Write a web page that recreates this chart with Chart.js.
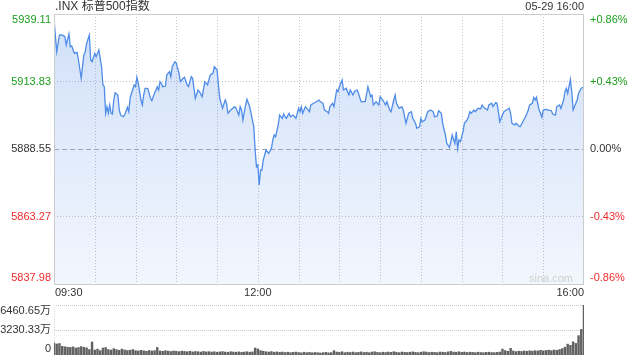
<!DOCTYPE html>
<html>
<head>
<meta charset="utf-8">
<script src="https://cdn.jsdelivr.net/npm/chart.js@4.4.1/dist/chart.umd.min.js"></script>
<style>
    html, body { margin: 0; padding: 0; background: #fff; }
    #wrap { position: relative; width: 640px; height: 360px; }
    #wrap canvas { position: absolute; left: 0; top: 0; }
</style>
</head>
<body>
<div id="wrap">
    <canvas id="price" width="640" height="360"></canvas>
    <canvas id="vol" width="640" height="360"></canvas>
</div>
<script>
// ── Data ─────────────────────────────────────────────────────────────────────

var TITLE = '.INX 标普500指数';
var STAMP = '05-29 16:00';
var PREV_CLOSE = 5888.55;

// Minutes since 09:30 and the index level read at that minute.
var minutes = [
    0, 1, 2, 4, 6, 8, 9, 11, 12, 13, 15, 17, 18, 20, 22, 23, 24, 26, 27, 28,
    30, 31, 33, 34, 35, 36, 37, 38, 39, 40, 41, 42, 43, 44, 45, 47, 48, 49, 51, 52,
    54, 55, 56, 57, 59, 60, 61, 62, 64, 65, 66, 67, 69, 71, 72, 73, 74, 76, 77, 78,
    79, 80, 82, 83, 85, 86, 87, 89, 90, 92, 93, 95, 96, 98, 99, 101, 102, 104, 106, 107,
    109, 111, 113, 115, 117, 118, 120, 121, 122, 124, 126, 127, 128, 130, 133, 134, 136, 137, 138, 139,
    141, 142, 144, 145, 147, 148, 149, 150, 151, 152, 153, 154, 155, 156, 158, 160, 161, 162, 163, 165,
    166, 168, 169, 170, 171, 173, 174, 176, 178, 180, 181, 182, 183, 185, 186, 188, 189, 191, 193, 195,
    196, 198, 199, 201, 202, 203, 205, 206, 208, 209, 210, 212, 213, 215, 217, 218, 220, 221, 223, 224,
    226, 229, 231, 233, 234, 235, 237, 239, 240, 242, 244, 245, 247, 248, 250, 251, 252, 254, 256, 257,
    259, 261, 263, 264, 266, 267, 269, 270, 271, 273, 275, 277, 279, 280, 282, 283, 285, 286, 288, 289,
    291, 292, 293, 295, 296, 297, 298, 299, 301, 302, 304, 305, 306, 307, 309, 310, 311, 312, 314, 315,
    317, 319, 320, 322, 323, 325, 326, 327, 328, 330, 331, 333, 335, 336, 337, 339, 340, 342, 343, 345,
    347, 349, 350, 352, 353, 354, 355, 357, 358, 359, 360, 362, 364, 366, 367, 369, 370, 372, 373, 375,
    376, 377, 378, 380, 381, 382, 384, 385, 386, 388, 390
];
var prices = [
    5937.20, 5931.00, 5925.00, 5931.24, 5931.30, 5930.61, 5927.50, 5931.62, 5926.86, 5927.12,
    5924.39, 5924.76, 5921.88, 5915.03, 5923.75, 5924.99, 5928.14, 5931.24, 5921.88, 5921.24,
    5924.39, 5923.12, 5925.63, 5922.52, 5919.37, 5912.52, 5911.88, 5901.92, 5904.39, 5901.92,
    5905.03, 5901.92, 5901.65, 5906.90, 5909.63, 5908.77, 5903.15, 5901.28, 5900.64, 5901.28,
    5904.16, 5902.52, 5907.53, 5909.41, 5912.52, 5911.88, 5915.40, 5913.15, 5906.90, 5905.03,
    5908.77, 5911.28, 5911.28, 5907.53, 5906.64, 5908.13, 5909.41, 5911.88, 5910.64, 5913.75,
    5913.15, 5911.88, 5912.14, 5916.26, 5917.50, 5915.63, 5919.37, 5921.24, 5920.64, 5916.90,
    5913.75, 5915.03, 5915.40, 5912.52, 5911.88, 5915.63, 5915.03, 5907.53, 5910.64, 5910.01,
    5908.13, 5913.75, 5912.52, 5916.26, 5916.90, 5919.37, 5918.13, 5912.52, 5907.53, 5903.79,
    5906.90, 5905.66, 5901.92, 5903.15, 5904.39, 5903.79, 5901.28, 5904.39, 5903.15, 5899.41,
    5905.03, 5907.16, 5904.39, 5901.92, 5896.90, 5888.17, 5881.91, 5882.55, 5875.06, 5880.68,
    5880.68, 5884.42, 5886.30, 5888.17, 5886.93, 5888.81, 5891.92, 5893.79, 5893.15, 5897.53,
    5901.28, 5900.04, 5901.65, 5900.64, 5900.04, 5901.92, 5900.64, 5901.28, 5900.04, 5903.79,
    5902.52, 5904.39, 5901.92, 5904.39, 5903.79, 5902.52, 5905.03, 5905.66, 5906.26, 5906.90,
    5906.26, 5905.66, 5903.15, 5902.52, 5901.92, 5904.39, 5905.66, 5904.39, 5910.64, 5910.01,
    5911.88, 5914.39, 5910.64, 5911.28, 5908.77, 5910.64, 5908.77, 5910.01, 5910.64, 5909.41,
    5906.26, 5906.26, 5911.88, 5908.13, 5908.77, 5905.03, 5906.26, 5905.03, 5908.13, 5906.90,
    5905.03, 5906.26, 5903.15, 5902.52, 5906.90, 5908.77, 5905.66, 5903.79, 5904.39, 5903.15,
    5898.17, 5901.92, 5902.52, 5900.04, 5898.17, 5896.30, 5896.90, 5900.04, 5898.77, 5899.41,
    5902.52, 5903.15, 5902.52, 5900.64, 5900.90, 5902.89, 5901.92, 5898.17, 5893.79, 5890.68,
    5889.18, 5891.28, 5893.79, 5890.68, 5895.02, 5888.81, 5891.92, 5891.28, 5895.02, 5898.17,
    5899.41, 5900.64, 5902.52, 5901.92, 5903.15, 5902.52, 5903.15, 5903.79, 5903.60, 5905.03,
    5903.79, 5903.15, 5905.03, 5905.66, 5904.39, 5905.89, 5905.66, 5902.52, 5898.77, 5901.28,
    5902.52, 5903.15, 5903.79, 5901.92, 5898.17, 5897.53, 5898.17, 5897.16, 5896.90, 5898.77,
    5900.64, 5903.15, 5905.03, 5905.66, 5907.91, 5906.90, 5907.91, 5903.15, 5901.92, 5900.42,
    5903.15, 5903.41, 5903.15, 5902.89, 5901.65, 5901.28, 5904.39, 5905.03, 5903.79, 5906.90,
    5910.01, 5911.28, 5909.41, 5914.65, 5910.01, 5903.15, 5905.66, 5906.90, 5909.41, 5911.28,
    5911.88
];

// Volume per two-minute bucket, in 万 shares.
var volumes = [
    1550, 1420, 1480, 1120, 1060, 1000,
    980, 1050, 900, 960, 1080, 1000, 920, 700,
    1680,
    640, 760, 560, 900, 960, 700, 640, 820, 690, 600, 760, 650, 580, 620, 700,
    560, 520, 600, 540, 480, 580, 520, 560,
    970,
    520, 480, 560, 500, 450, 520, 480, 430, 500, 460, 420, 480, 400, 450, 420, 380, 460, 400,
    430, 380, 420, 360, 400, 440, 380, 350, 420, 380, 360, 400, 340, 380, 420, 360, 400,
    900, 780,
    560, 480, 420, 380, 440, 360, 400, 340, 380, 320, 360, 300, 340, 380, 320, 280, 360, 300,
    340, 280, 320, 300, 260, 300, 340, 280, 300,
    560,
    380, 340, 420, 300, 360, 320, 380, 300, 340, 400, 320, 360, 300, 380, 420, 340, 300, 360,
    320, 380, 340, 420, 360, 300, 380, 340, 320, 360, 400, 340, 300, 360, 420, 380, 320, 360,
    340, 300, 380, 360, 320, 400, 460, 380, 360, 420, 340, 380, 320, 360, 340, 300, 360, 320,
    300, 340, 360, 320, 300, 340, 380,
    760, 560, 480, 860, 520,
    440, 500, 460, 520, 480, 540, 500, 560, 520, 600, 540, 580, 620, 560, 640, 600,
    700, 820, 1000, 1400, 1250, 1700, 1500, 2500, 3300, 6460.65
];
var volMinutes = volumes.map(function(_, i) { return i * 2; });

var priceTicks = [5939.11, 5913.83, 5888.55, 5863.27, 5837.98];
var pctTicks = ['+0.86%', '+0.43%', '0.00%', '-0.43%', '-0.86%'];
var volTicks = [6460.65, 3230.33, 0];
var volTickLabels = ['6460.65万', '3230.33万', '0'];
var timeTicks = [0, 150, 390];
var timeLabels = ['09:30', '12:00', '16:00'];
var gridMinutes = [30, 60, 90, 120, 150, 180, 210, 240, 270, 300, 330, 360];

// ── Style ────────────────────────────────────────────────────────────────────

var FAMILY = 'Arial, "Liberation Sans", "Noto Sans CJK SC", sans-serif';
var FONT = '11px ' + FAMILY;
var TITLE_FONT = '12px ' + FAMILY;
var GREEN = '#1a9e1a';
var RED = '#f02c2c';
var TEXT = '#333';
var LINE = '#4f8ce8';

function tickColor(v) {
    if (Math.abs(v - PREV_CLOSE) < 0.01) {
        return TEXT;
    }
    return v > PREV_CLOSE ? GREEN : RED;
}

function hLine(ctx, a, y, color, dash) {
    ctx.strokeStyle = color;
    ctx.setLineDash(dash);
    ctx.beginPath();
    ctx.moveTo(a.left, y);
    ctx.lineTo(a.right, y);
    ctx.stroke();
}

function vLine(ctx, x, top, bottom, color, dash) {
    ctx.strokeStyle = color;
    ctx.setLineDash(dash);
    ctx.beginPath();
    ctx.moveTo(x, top);
    ctx.lineTo(x, bottom);
    ctx.stroke();
}

function clampY(y, a) {
    return Math.min(Math.max(y, a.top + 6), a.bottom - 6);
}

// ── Price pane decorations ───────────────────────────────────────────────────

var priceDecor = {
    id: 'priceDecor',
    beforeDatasetsDraw: function(chart) {
        var ctx = chart.ctx, a = chart.chartArea, x = chart.scales.x, y = chart.scales.y;
        ctx.save();
        ctx.lineWidth = 1;
        gridMinutes.forEach(function(m) {
            vLine(ctx, Math.round(x.getPixelForValue(m)) + 0.5, a.top, a.bottom, '#c4c4c4', [1, 2]);
        });
        [priceTicks[1], priceTicks[3]].forEach(function(v) {
            hLine(ctx, a, Math.round(y.getPixelForValue(v)) + 0.5, '#c4c4c4', [1, 2]);
        });
        hLine(ctx, a, Math.round(y.getPixelForValue(PREV_CLOSE)) + 0.5, '#aaaaaa', [5, 3]);
        ctx.restore();
    },
    afterDraw: function(chart) {
        var ctx = chart.ctx, a = chart.chartArea, x = chart.scales.x, y = chart.scales.y;
        ctx.save();
        ctx.lineWidth = 1;
        ctx.setLineDash([]);
        ctx.strokeStyle = '#cccccc';
        ctx.strokeRect(a.left + 0.5, a.top + 0.5, a.right - a.left - 1, a.bottom - a.top);

        ctx.font = FONT;
        ctx.textBaseline = 'middle';

        priceTicks.forEach(function(v, i) {
            var py = clampY(y.getPixelForValue(v), a);
            ctx.fillStyle = tickColor(v);
            ctx.textAlign = 'right';
            ctx.fillText(v.toFixed(2), a.left - 3, py);
            ctx.textAlign = 'left';
            ctx.fillText(pctTicks[i], a.right + 6, py);
        });

        ctx.fillStyle = TEXT;
        timeTicks.forEach(function(m, i) {
            var px = x.getPixelForValue(m);
            ctx.textAlign = i === 0 ? 'left' : (i === timeTicks.length - 1 ? 'right' : 'center');
            ctx.fillText(timeLabels[i], i === 0 ? px + 1 : px, a.bottom + 9);
        });

        ctx.textAlign = 'right';
        ctx.fillText(STAMP, a.right, 7);
        ctx.font = TITLE_FONT;
        ctx.textAlign = 'left';
        ctx.fillText(TITLE, a.left + 1, 7);

        ctx.font = FONT;
        ctx.textAlign = 'right';
        ctx.fillStyle = '#cfcfcf';
        ctx.fillText('sina.com', a.right - 11, a.bottom - 5);
        ctx.restore();
    }
};

// ── Volume pane decorations ──────────────────────────────────────────────────

var volDecor = {
    id: 'volDecor',
    beforeDatasetsDraw: function(chart) {
        var ctx = chart.ctx, a = chart.chartArea, y = chart.scales.y;
        ctx.save();
        ctx.lineWidth = 1;
        [volTicks[0], volTicks[1]].forEach(function(v) {
            hLine(ctx, a, Math.round(y.getPixelForValue(v)) + 0.5, '#c8c8c8', [1, 1]);
        });
        vLine(ctx, a.left + 0.5, a.top, a.bottom, '#dddddd', [1, 1]);
        ctx.restore();
    },
    afterDraw: function(chart) {
        var ctx = chart.ctx, a = chart.chartArea, y = chart.scales.y;
        ctx.save();
        ctx.font = FONT;
        ctx.textBaseline = 'middle';
        ctx.textAlign = 'right';
        ctx.fillStyle = TEXT;
        volTicks.forEach(function(v, i) {
            ctx.fillText(volTickLabels[i], a.left - 3, clampY(y.getPixelForValue(v), a));
        });
        ctx.restore();
    }
};

// ── Charts ───────────────────────────────────────────────────────────────────

new Chart(document.getElementById('price'), {
    type: 'line',
    data: {
        datasets: [{
            data: minutes.map(function(m, i) { return {x: m, y: prices[i]}; }),
            borderColor: LINE,
            borderWidth: 1.3,
            pointRadius: 0,
            tension: 0,
            fill: 'start',
            backgroundColor: function(c) {
                var a = c.chart.chartArea;
                if (!a) {
                    return 'rgba(74,134,232,0.15)';
                }
                var g = c.chart.ctx.createLinearGradient(0, a.top, 0, a.bottom);
                g.addColorStop(0, 'rgba(74,134,232,0.26)');
                g.addColorStop(1, 'rgba(74,134,232,0.07)');
                return g;
            }
        }]
    },
    options: {
        responsive: false,
        animation: false,
        events: [],
        layout: {padding: {left: 54, right: 56, top: 14, bottom: 76}},
        plugins: {legend: {display: false}, tooltip: {enabled: false}},
        scales: {
            x: {type: 'linear', min: 0, max: 390, display: false},
            y: {min: priceTicks[4], max: priceTicks[0], display: false}
        }
    },
    plugins: [priceDecor]
});

new Chart(document.getElementById('vol'), {
    type: 'bar',
    data: {
        datasets: [{
            data: volMinutes.map(function(m, i) { return {x: m, y: volumes[i]}; }),
            backgroundColor: '#626262',
            barThickness: 1.8
        }]
    },
    options: {
        responsive: false,
        animation: false,
        events: [],
        layout: {padding: {left: 54, right: 56, top: 305, bottom: 5}},
        plugins: {legend: {display: false}, tooltip: {enabled: false}},
        scales: {
            x: {type: 'linear', min: 0, max: 390, offset: false, display: false},
            y: {min: 0, max: volTicks[0], display: false}
        }
    },
    plugins: [volDecor]
});
</script>
</body>
</html>
